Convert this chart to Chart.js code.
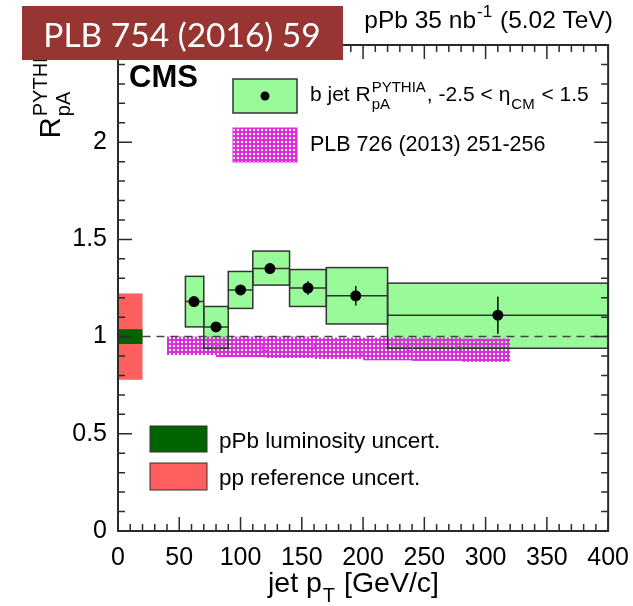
<!DOCTYPE html>
<html>
<head>
<meta charset="utf-8">
<script src="https://cdn.jsdelivr.net/npm/chart.js@4/dist/chart.umd.min.js"></script>
<style>
  html, body { margin: 0; padding: 0; background: #fff; }
  #wrap { position: relative; width: 633px; height: 606px; }
</style>
</head>
<body>
<div id="wrap"><canvas id="c" width="633" height="606"></canvas></div>
<script>
// ---- b-jet R_pA (PYTHIA reference), bins in jet pT [GeV/c] ----
const binLow   = [55, 70, 90, 110, 140, 170, 220];
const binHigh  = [70, 90, 110, 140, 170, 220, 400];
const pointPt  = [62, 80, 100, 124, 155, 194, 310];
const rpA      = [1.18, 1.05, 1.24, 1.35, 1.25, 1.21, 1.11];
const statErr  = [0.02, 0.02, 0.025, 0.028, 0.035, 0.05, 0.095];
const sysLow   = [1.05, 0.94, 1.145, 1.265, 1.155, 1.065, 0.94];
const sysHigh  = [1.31, 1.155, 1.335, 1.44, 1.345, 1.355, 1.275];

// ---- earlier measurement, PLB 726 (2013) 251-256 ----
const prevEdges = [40, 80, 120, 160, 200, 240, 280, 320];
const prevLow   = [0.905, 0.895, 0.89, 0.885, 0.878, 0.875, 0.87];
const prevHigh  = [1.0, 1.0, 1.0, 0.995, 0.995, 0.995, 0.99];
const prevPt    = [80, 120, 158, 199, 238, 278];
const prevR     = [0.95, 0.943, 0.95, 0.924, 0.943, 0.933];

// ---- global uncertainties drawn at low pT ----
const globalPtRange = [0, 20];
const lumiUnc  = 0.038;
const ppRefUnc = 0.222;

// ---- axis tick labels ----
const xTickValues = [0, 50, 100, 150, 200, 250, 300, 350, 400];
const xTickLabels = ['0', '50', '100', '150', '200', '250', '300', '350', '400'];
const yTickValues = [0, 0.5, 1, 1.5, 2];
const yTickLabels = ['0', '0.5', '1', '1.5', '2'];

// ---- text ----
const legendTop = [
  ['b jet R', {sup: 'PYTHIA', sub: 'pA'}, ', -2.5 < \u03B7', {sub: 'CM'}, ' < 1.5'],
  ['PLB 726 (2013) 251-256']
];
const legendBottom = ['pPb luminosity uncert.', 'pp reference uncert.'];
const banner = 'PLB 754 (2016) 59';

const FONT = '"Liberation Sans", Arial, Helvetica, sans-serif';
const GREEN = 'rgb(152,250,152)';
const DARKGREEN = 'rgb(0,100,0)';
const RED = 'rgb(255,95,95)';
const MAGENTA = 'rgb(220,45,220)';
const FRAME = '#2b2b2b';

function makeHatch(ctx) {
  const c = document.createElement('canvas');
  c.width = 4; c.height = 4;
  const g = c.getContext('2d');
  g.fillStyle = MAGENTA;
  g.fillRect(0, 0, 4, 4);
  g.clearRect(1, 1, 2, 2);
  return ctx.createPattern(c, 'repeat');
}

// draws text runs with super/subscripts; returns total width
function rich(ctx, parts, x, y, base, draw) {
  let cx = x;
  const small = Math.round(base * 0.7);
  for (const p of parts) {
    if (typeof p === 'string') {
      ctx.font = base + 'px ' + FONT;
      if (draw) ctx.fillText(p, cx, y);
      cx += ctx.measureText(p).width;
    } else {
      ctx.font = small + 'px ' + FONT;
      let w = 0;
      if (p.sup) { if (draw) ctx.fillText(p.sup, cx + 1, y - base * 0.45); w = Math.max(w, ctx.measureText(p.sup).width); }
      if (p.sub) { if (draw) ctx.fillText(p.sub, cx + 1, y + base * 0.36); w = Math.max(w, ctx.measureText(p.sub).width); }
      cx += w + 2;
    }
  }
  return cx - x;
}

function rect(ctx, xs, ys, x0, x1, y0, y1) {
  const a = xs.getPixelForValue(x0), b = xs.getPixelForValue(x1);
  const c = ys.getPixelForValue(y1), d = ys.getPixelForValue(y0);
  return [a, c, b - a, d - c];
}

const rootStyle = {
  id: 'rootStyle',
  beforeDatasetsDraw(chart) {
    const {ctx, chartArea: area, scales: {x, y}} = chart;
    ctx.save();
    ctx.beginPath();
    ctx.rect(area.left, area.top, area.right - area.left, area.bottom - area.top);
    ctx.clip();

    // global uncertainty boxes at unity
    ctx.fillStyle = RED;
    ctx.fillRect(...rect(ctx, x, y, globalPtRange[0], globalPtRange[1], 1 - ppRefUnc, 1 + ppRefUnc));
    ctx.fillStyle = DARKGREEN;
    ctx.fillRect(...rect(ctx, x, y, globalPtRange[0], globalPtRange[1], 1 - lumiUnc, 1 + lumiUnc));

    // systematic boxes
    for (let i = 0; i < binLow.length; i++) {
      ctx.fillStyle = GREEN;
      ctx.fillRect(...rect(ctx, x, y, binLow[i], binHigh[i], sysLow[i], sysHigh[i]));
    }
    // earlier measurement, hatched
    ctx.fillStyle = makeHatch(ctx);
    for (let i = 0; i < prevLow.length; i++) {
      ctx.fillRect(...rect(ctx, x, y, prevEdges[i], prevEdges[i + 1], prevLow[i], prevHigh[i]));
    }
    // box outlines and central values
    ctx.strokeStyle = '#333';
    ctx.lineWidth = 1.5;
    for (let i = 0; i < binLow.length; i++) {
      ctx.strokeRect(...rect(ctx, x, y, binLow[i], binHigh[i], sysLow[i], sysHigh[i]));
      const yc = y.getPixelForValue(rpA[i]);
      ctx.beginPath();
      ctx.moveTo(x.getPixelForValue(binLow[i]), yc);
      ctx.lineTo(x.getPixelForValue(binHigh[i]), yc);
      ctx.stroke();
    }
    // unity line
    ctx.strokeStyle = '#444';
    ctx.lineWidth = 1.5;
    ctx.setLineDash([8, 6]);
    ctx.beginPath();
    ctx.moveTo(x.getPixelForValue(globalPtRange[1]), y.getPixelForValue(1));
    ctx.lineTo(x.getPixelForValue(400), y.getPixelForValue(1));
    ctx.stroke();
    ctx.setLineDash([]);
    ctx.restore();
  },
  afterDatasetsDraw(chart) {
    const {ctx, chartArea: area, scales: {x, y}} = chart;
    ctx.save();

    // statistical error bars
    ctx.strokeStyle = '#000';
    ctx.lineWidth = 1.5;
    for (let i = 0; i < rpA.length; i++) {
      const xp = x.getPixelForValue(pointPt[i]);
      ctx.beginPath();
      ctx.moveTo(xp, y.getPixelForValue(rpA[i] - statErr[i]));
      ctx.lineTo(xp, y.getPixelForValue(rpA[i] + statErr[i]));
      ctx.stroke();
    }

    // frame
    ctx.strokeStyle = FRAME;
    ctx.lineWidth = 2;
    ctx.strokeRect(area.left, area.top, area.right - area.left, area.bottom - area.top);

    // ticks on all four sides
    ctx.lineWidth = 1.5;
    ctx.beginPath();
    for (let v = 0; v <= 400; v += 10) {
      const xp = x.getPixelForValue(v);
      const len = v % 50 === 0 ? 14 : 7;
      ctx.moveTo(xp, area.bottom); ctx.lineTo(xp, area.bottom - len);
      ctx.moveTo(xp, area.top); ctx.lineTo(xp, area.top + len);
    }
    for (let k = 0; k <= 25; k++) {
      const yp = y.getPixelForValue(k / 10);
      const len = k % 5 === 0 ? 14 : 7;
      ctx.moveTo(area.left, yp); ctx.lineTo(area.left + len, yp);
      ctx.moveTo(area.right, yp); ctx.lineTo(area.right - len, yp);
    }
    ctx.stroke();

    // axis titles
    ctx.fillStyle = '#000';
    ctx.textBaseline = 'alphabetic';
    ctx.textAlign = 'left';
    const xt = ['jet p', {sub: 'T'}, ' [GeV/c]'];
    rich(ctx, xt, 268, 592, 28.5, true);

    ctx.save();
    ctx.translate(60, area.top);
    ctx.rotate(-Math.PI / 2);
    const yt = ['R', {sup: 'PYTHIA', sub: 'pA'}];
    const wy = rich(ctx, yt, 0, 0, 29, false);
    rich(ctx, yt, -wy + 2, 0, 29, true);
    ctx.restore();

    // CMS label
    ctx.font = 'bold 31px ' + FONT;
    ctx.fillText('CMS', area.left + 11, 87);

    // top-right run label
    const run = ['pPb 35 nb', {sup: '-1'}, ' (5.02 TeV)'];
    const wr = rich(ctx, run, 0, 0, 24.5, false);
    rich(ctx, run, 613 - wr, 28, 24.5, true);

    // upper legend
    ctx.fillStyle = GREEN;
    ctx.fillRect(233, 79, 64, 34);
    ctx.strokeStyle = '#333'; ctx.lineWidth = 1.5;
    ctx.strokeRect(233, 79, 64, 34);
    ctx.fillStyle = '#000';
    ctx.beginPath(); ctx.arc(265, 96, 4.5, 0, Math.PI * 2); ctx.fill();
    rich(ctx, legendTop[0], 310, 101, 21, true);

    ctx.fillStyle = makeHatch(ctx);
    ctx.fillRect(233, 128, 64, 34);
    ctx.strokeStyle = MAGENTA; ctx.lineWidth = 1;
    ctx.strokeRect(233, 128, 64, 34);
    ctx.strokeRect(260, 141, 8, 8);
    ctx.fillStyle = '#000';
    rich(ctx, legendTop[1], 310, 151, 21.5, true);

    // lower legend
    ctx.fillStyle = DARKGREEN;
    ctx.fillRect(150, 426, 57, 26);
    ctx.strokeStyle = '#333'; ctx.lineWidth = 1;
    ctx.strokeRect(150, 426, 57, 26);
    ctx.fillStyle = RED;
    ctx.fillRect(150, 463, 57, 27);
    ctx.strokeRect(150, 463, 57, 27);
    ctx.fillStyle = '#000';
    ctx.font = '22.5px ' + FONT;
    ctx.fillText(legendBottom[0], 219, 448);
    ctx.fillText(legendBottom[1], 219, 485);

    // publication banner
    ctx.fillStyle = 'rgb(151,53,51)';
    ctx.fillRect(22, 6, 321, 54);
    ctx.fillStyle = '#fff';
    ctx.font = '33.5px Lato, "Open Sans", sans-serif';
    ctx.textAlign = 'center';
    ctx.textBaseline = 'middle';
    ctx.fillText(banner, 182, 36);
    ctx.restore();
  }
};

new Chart(document.getElementById('c'), {
  type: 'scatter',
  data: {
    datasets: [
      {
        label: 'b jet',
        data: pointPt.map((p, i) => ({x: p, y: rpA[i]})),
        pointStyle: 'circle',
        pointRadius: 5.5,
        pointBackgroundColor: '#000',
        pointBorderColor: '#000',
        pointBorderWidth: 0
      },
      {
        label: 'PLB 726',
        data: prevPt.map((p, i) => ({x: p, y: prevR[i]})),
        pointStyle: 'rect',
        pointRadius: 4,
        pointBackgroundColor: 'rgba(0,0,0,0)',
        pointBorderColor: MAGENTA,
        pointBorderWidth: 1
      }
    ]
  },
  options: {
    responsive: false,
    animation: false,
    devicePixelRatio: 1,
    layout: {padding: {top: 45, right: 13, left: 0, bottom: 0}},
    plugins: {legend: {display: false}, tooltip: {enabled: false}},
    scales: {
      x: {
        type: 'linear', min: 0, max: 400,
        grid: {display: false}, border: {display: false},
        afterBuildTicks: s => { s.ticks = xTickValues.map(v => ({value: v})); },
        afterFit: s => { s.height = 75; },
        ticks: {
          autoSkip: false, maxRotation: 0, padding: 4, color: '#000',
          font: {family: FONT, size: 25},
          callback: v => { const i = xTickValues.indexOf(v); return i < 0 ? '' : xTickLabels[i]; }
        }
      },
      y: {
        type: 'linear', min: 0, max: 2.5,
        grid: {display: false}, border: {display: false},
        afterBuildTicks: s => { s.ticks = yTickValues.map(v => ({value: v})); },
        afterFit: s => { s.width = 118; },
        ticks: {
          autoSkip: false, padding: 3, color: '#000',
          font: {family: FONT, size: 25},
          callback: v => { const i = yTickValues.indexOf(v); return i < 0 ? '' : yTickLabels[i]; }
        }
      }
    }
  },
  plugins: [rootStyle]
});
</script>
</body>
</html>
